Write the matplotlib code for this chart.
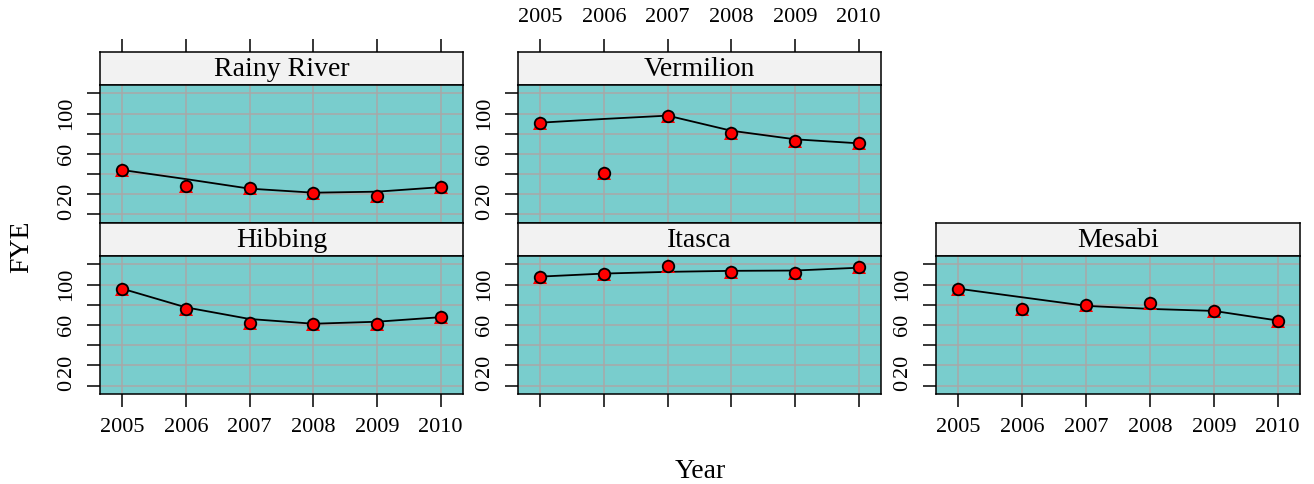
import matplotlib
matplotlib.use("Agg")
import matplotlib.pyplot as plt

plt.rcParams['font.family'] = ['Liberation Serif', 'DejaVu Serif']

# ---- data -------------------------------------------------------------
years = [2005, 2006, 2007, 2008, 2009, 2010]

rainy_river = [44, 28, 26, 21, 18, 27]
rainy_river_smooth = [44, 35, 25.5, 21.5, 22.5, 27]

vermilion = [91, 41, 98, 81, 73, 71]
vermilion_smooth = [91, 94.7, 98, 83, 74.5, 70.5]

hibbing = [96, 76, 62, 61, 61, 68]
hibbing_smooth = [96, 77.5, 66, 61.3, 63.3, 67.8]

itasca = [108, 111, 118, 113, 112, 117.5]
itasca_smooth = [108, 111, 112.7, 113.7, 114, 116.8]

mesabi = [96, 75.5, 79.5, 82, 73.5, 64.5]
mesabi_smooth = [96, 87.5, 79, 76, 74, 64.5]

y_ticks = [0, 20, 40, 60, 80, 100, 120]
y_tick_labels = ['0', '20', '', '60', '', '100', '']

# ---- layout (pixels) --------------------------------------------------
W, H = 1314, 484
fig = plt.figure(figsize=(W / 100, H / 100), dpi=100)

cols = [(100, 463), (518, 881), (936, 1300)]
rows = [(51.7, 85, 222.7), (222.7, 256, 394)]   # strip top, panel top, panel bottom

panel_bg = '#79CDCD'
strip_bg = '#F2F2F2'
grid_col = '#a8a8a8'
tick_len = 9.5
lw_frame = 1.1
xlim = (2004.65, 2010.35)
ylim = (-8.3, 128.4)


def add_ax(x0, x1, y0, y1):
    return fig.add_axes([x0 / W, 1 - y1 / H, (x1 - x0) / W, (y1 - y0) / H])


def panel(col, row, name, pts, smooth, top_ticks=False, top_labels=False,
          bottom_ticks=False, bottom_labels=False):
    x0, x1 = cols[col]
    s_top, p_top, p_bot = rows[row]

    # strip with panel title
    st = add_ax(x0, x1, s_top, p_top)
    st.set_facecolor(strip_bg)
    st.set_xlim(xlim)
    st.set_ylim(0, 1)
    st.set_yticks([])
    st.text(0.5, 0.47, name, transform=st.transAxes, ha='center', va='center',
            fontsize=20)
    if top_ticks:
        st.set_xticks(years)
        st.tick_params(axis='x', bottom=False, labelbottom=False, top=True,
                       labeltop=top_labels, direction='out', length=tick_len,
                       width=lw_frame, pad=8, labelsize=16)
    else:
        st.set_xticks([])
    for sp in st.spines.values():
        sp.set_linewidth(lw_frame)

    # data panel
    ax = add_ax(x0, x1, p_top, p_bot)
    ax.set_facecolor(panel_bg)
    ax.set_xlim(xlim)
    ax.set_ylim(ylim)
    ax.set_xticks(years)
    ax.set_yticks(y_ticks)
    ax.set_yticklabels(y_tick_labels, rotation=90, va='center')
    ax.grid(True, color=grid_col, linewidth=1.1, zorder=0)
    ax.set_axisbelow(True)
    ax.tick_params(axis='y', left=True, right=False, direction='out',
                   length=tick_len, width=lw_frame, pad=8, labelsize=16)
    ax.tick_params(axis='x', bottom=bottom_ticks, labelbottom=bottom_labels,
                   top=False, labeltop=False, direction='out',
                   length=tick_len, width=lw_frame, pad=8, labelsize=16)
    for sp in ax.spines.values():
        sp.set_linewidth(lw_frame)
        sp.set_zorder(5)

    ax.plot(years, smooth, color='black', linewidth=1.3, zorder=3)
    ax.plot(years, pts, linestyle='none', marker='^', markersize=10.5,
            color='red', markeredgewidth=0, zorder=3.5)
    ax.plot(years, pts, linestyle='none', marker='o', markersize=8.3,
            markerfacecolor='red', markeredgecolor='black',
            markeredgewidth=1.3, zorder=4)
    return ax


panel(0, 0, 'Rainy River', rainy_river, rainy_river_smooth,
      top_ticks=True, top_labels=False)
panel(1, 0, 'Vermilion', vermilion, vermilion_smooth,
      top_ticks=True, top_labels=True)
panel(0, 1, 'Hibbing', hibbing, hibbing_smooth,
      bottom_ticks=True, bottom_labels=True)
panel(1, 1, 'Itasca', itasca, itasca_smooth,
      bottom_ticks=True, bottom_labels=False)
panel(2, 1, 'Mesabi', mesabi, mesabi_smooth,
      bottom_ticks=True, bottom_labels=True)

fig.text(22 / W, 1 - 247 / H, 'FYE', rotation=90, ha='center', va='center',
         fontsize=20)
fig.text(700 / W, 1 - 471 / H, 'Year', ha='center', va='center', fontsize=20)

fig.savefig('out.png', dpi=100, facecolor='white')
